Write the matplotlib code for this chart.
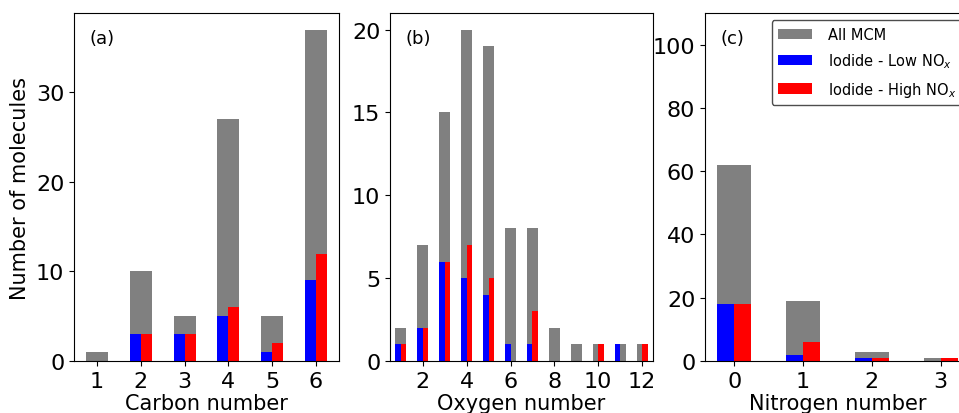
import numpy as np
import matplotlib
matplotlib.use("Agg")
import matplotlib.pyplot as plt

# Molecule counts by element number
carbon = [1, 2, 3, 4, 5, 6]
carbon_all = [1, 10, 5, 27, 5, 37]
carbon_low = [0, 3, 3, 5, 1, 9]
carbon_high = [0, 3, 3, 6, 2, 12]

oxygen = [1, 2, 3, 4, 5, 6, 7, 8, 9, 10, 11, 12]
oxygen_all = [2, 7, 15, 20, 19, 8, 8, 2, 1, 1, 1, 1]
oxygen_low = [1, 2, 6, 5, 4, 1, 1, 0, 0, 0, 1, 0]
oxygen_high = [1, 2, 6, 7, 5, 0, 3, 0, 0, 1, 0, 1]

nitrogen = [0, 1, 2, 3]
nitrogen_all = [62, 19, 3, 1]
nitrogen_low = [18, 2, 1, 0]
nitrogen_high = [18, 6, 1, 1]

labels = ["All MCM", "Iodide - Low NO$_x$", "Iodide - High NO$_x$"]
panel_tags = ["(a)", "(b)", "(c)"]
xlabels = ["Carbon number", "Oxygen number", "Nitrogen number"]

W, H = 959, 414
fig = plt.figure(figsize=(W / 100, H / 100), dpi=100)


def px_axes(left, right, top=14, bottom=362):
    return fig.add_axes([left / W, (H - bottom) / H, (right - left) / W, (bottom - top) / H])


def draw(ax, x, all_, low, high):
    x = np.asarray(x, dtype=float)
    b1 = ax.bar(x, all_, width=0.5, color="gray", label=labels[0])
    b2 = ax.bar(x - 0.125, low, width=0.25, color="blue", label=labels[1])
    b3 = ax.bar(x + 0.125, high, width=0.25, color="red", label=labels[2])
    return b1, b2, b3


ax_a = px_axes(74, 339)
ax_b = px_axes(390, 653)
ax_c = px_axes(705, 970)

draw(ax_a, carbon, carbon_all, carbon_low, carbon_high)
draw(ax_b, oxygen, oxygen_all, oxygen_low, oxygen_high)
handles = draw(ax_c, nitrogen, nitrogen_all, nitrogen_low, nitrogen_high)

ax_a.set_xticks(carbon)
ax_a.set_yticks([0, 10, 20, 30])
ax_b.set_xlim(0.5, 12.5)
ax_b.set_xticks([2, 4, 6, 8, 10, 12])
ax_b.set_yticks([0, 5, 10, 15, 20])
ax_c.set_xticks(nitrogen)
ax_c.set_ylim(0, 110)
ax_c.set_yticks([0, 20, 40, 60, 80, 100])

ax_a.set_ylabel("Number of molecules", fontsize=15)

for ax, tag, xl in zip([ax_a, ax_b, ax_c], panel_tags, xlabels):
    ax.tick_params(labelsize=16)
    ax.set_xlabel(xl, fontsize=15, labelpad=2)
    ax.text(0.06, 0.955, tag, transform=ax.transAxes, fontsize=13, va="top", ha="left")

ax_c.legend(handles=handles, loc="upper right", fontsize=10.5, framealpha=1,
            edgecolor="0.3", borderpad=0.45, labelspacing=0.65,
            handlelength=2.3, handletextpad=1.1, borderaxespad=0.5)

fig.savefig("out.png", dpi=100)
